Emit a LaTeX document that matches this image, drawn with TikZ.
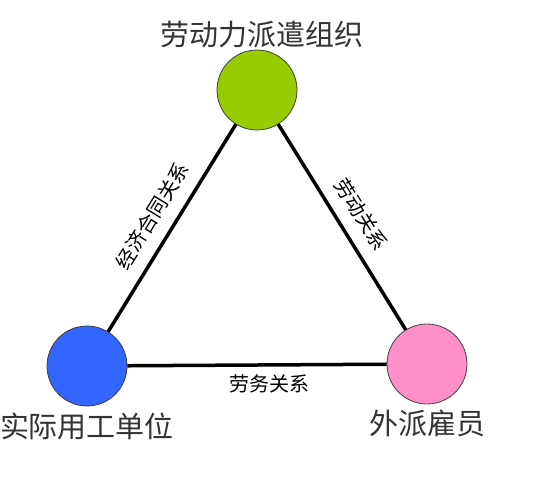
\documentclass[tikz,border=0pt]{standalone}
\usepackage{fontspec}
\newfontfamily\cjk{Noto Sans CJK SC}
\usepackage{xcolor}
\usepackage{tikz}
\usetikzlibrary{positioning}

\definecolor{agencygreen}{HTML}{99CC00}
\definecolor{userblue}{HTML}{3366FF}
\definecolor{workerpink}{HTML}{FF8FC8}

\begin{document}
\begin{tikzpicture}[
    x=1pt, y=-1pt,
    party/.style={circle, draw=black!75, line width=0.8pt, minimum size=80pt, inner sep=0pt},
    partyname/.style={font=\cjk\fontsize{29}{29}\selectfont, text=black!80, inner sep=0pt},
    relation/.style={font=\cjk\fontsize{20}{20}\selectfont, inner sep=0pt},
    link/.style={line width=3.5pt}
]
\useasboundingbox (0,0) rectangle (536,496);

% Three parties
\node[party, fill=agencygreen] (agency) at (257,90) {};
\node[party, fill=userblue] (user) at (87,366) {};
\node[party, fill=workerpink] (worker) at (427,364) {};

% Their names
\node[partyname, above=1pt of agency, xshift=5pt] (agencyname) {劳动力派遣组织};
\node[partyname, below=6pt of user] (username) {实际用工单位};
\node[partyname, below=5pt of worker] (workername) {外派雇员};

% Relations
\draw[link] (user) -- node[relation, sloped, above=12pt] {经济合同关系} (agency);
\draw[link] (agency) -- node[relation, sloped, above=12pt] {劳动关系} (worker);
\draw[link] (user) -- node[relation, pos=0.55, below=8pt] {劳务关系} (worker);

\end{tikzpicture}
\end{document}
